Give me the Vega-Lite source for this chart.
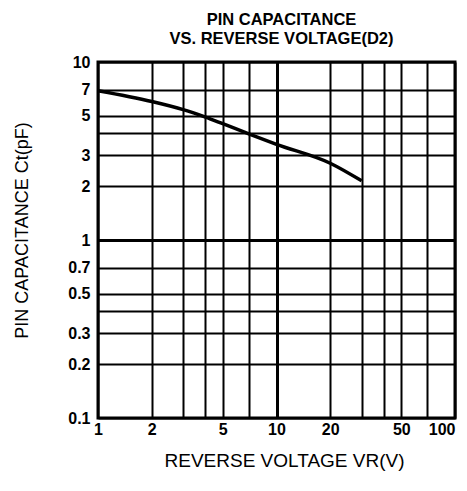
{
  "$schema": "https://vega.github.io/schema/vega-lite/v6.json",
  "width": 357,
  "height": 356,
  "autosize": {"type": "none"},
  "padding": {"left": 98, "top": 62, "right": 12, "bottom": 73},
  "background": "white",
  "config": {
    "view": {"stroke": "black", "strokeWidth": 3},
    "font": "Liberation Sans"
  },
  "title": {
    "text": ["PIN CAPACITANCE", "VS. REVERSE VOLTAGE(D2)"],
    "anchor": "middle",
    "fontSize": 16.5,
    "fontWeight": "bold",
    "font": "Liberation Sans",
    "color": "black",
    "lineHeight": 19,
    "offset": 7,
    "dx": 5
  },
  "data": {
    "values": [
      {"v": 1, "c": 6.9},
      {"v": 2, "c": 6.0},
      {"v": 3, "c": 5.4},
      {"v": 4, "c": 4.9},
      {"v": 5, "c": 4.5},
      {"v": 7, "c": 3.95},
      {"v": 10, "c": 3.45},
      {"v": 20, "c": 2.7},
      {"v": 30, "c": 2.15}
    ]
  },
  "mark": {"type": "line", "color": "black", "strokeWidth": 3.5, "interpolate": "monotone"},
  "encoding": {
    "x": {
      "field": "v",
      "type": "quantitative",
      "scale": {"type": "log", "domain": [1, 100], "nice": false},
      "axis": {
        "values": [1, 2, 3, 4, 5, 7, 10, 20, 30, 40, 50, 70, 100],
        "labelExpr": "indexof([1,2,5,10,20,50,100], datum.value) >= 0 ? datum.label : ''",
        "format": "~g",
        "grid": true,
        "gridColor": "black",
        "gridOpacity": 1,
        "gridWidth": {"condition": {"test": "datum.value == 10", "value": 3}, "value": 2},
        "ticks": false,
        "domain": false,
        "labelFont": "Liberation Sans",
        "labelFontSize": 16,
        "labelFontWeight": "bold",
        "labelColor": "black",
        "labelPadding": 3,
        "labelFlush": false,
        "labelAlign": {"condition": {"test": "datum.value == 100", "value": "right"}, "value": "center"},
        "title": "REVERSE VOLTAGE VR(V)",
        "titleFont": "Liberation Sans",
        "titleFontSize": 19,
        "titleFontWeight": "normal",
        "titleColor": "black",
        "titlePadding": 14,
        "titleX": 186
      }
    },
    "y": {
      "field": "c",
      "type": "quantitative",
      "scale": {"type": "log", "domain": [0.1, 10], "nice": false},
      "axis": {
        "values": [0.1, 0.2, 0.3, 0.4, 0.5, 0.7, 1, 2, 3, 4, 5, 7, 10],
        "labelExpr": "datum.value == 4 || datum.value == 0.4 ? '' : datum.label",
        "format": "~g",
        "grid": true,
        "gridColor": "black",
        "gridOpacity": 1,
        "gridWidth": {"condition": {"test": "datum.value == 1", "value": 3}, "value": 2},
        "ticks": false,
        "domain": false,
        "labelFont": "Liberation Sans",
        "labelFontSize": 16,
        "labelFontWeight": "bold",
        "labelColor": "black",
        "labelPadding": 8,
        "labelFlush": false,
        "title": "PIN CAPACITANCE Ct(pF)",
        "titleFont": "Liberation Sans",
        "titleFontSize": 18,
        "titleFontWeight": "normal",
        "titleColor": "black",
        "titlePadding": 36,
        "titleY": 168
      }
    }
  }
}
